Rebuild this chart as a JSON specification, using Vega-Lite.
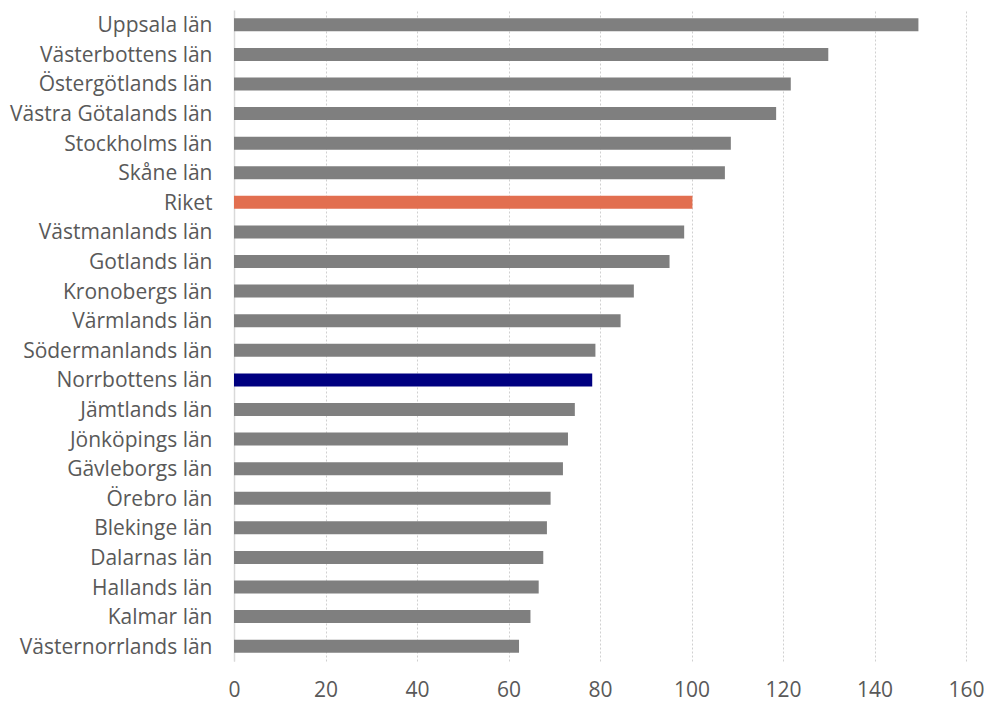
{
  "$schema": "https://vega.github.io/schema/vega-lite/v6.json",
  "autosize": {"type": "none"},
  "width": 732,
  "height": 651,
  "padding": {"left": 234, "top": 10, "right": 18, "bottom": 41},
  "background": "white",
  "data": {
    "values": [
      {"lan": "Uppsala län", "varde": 149.6, "grupp": "lan"},
      {"lan": "Västerbottens län", "varde": 129.9, "grupp": "lan"},
      {"lan": "Östergötlands län", "varde": 121.7, "grupp": "lan"},
      {"lan": "Västra Götalands län", "varde": 118.5, "grupp": "lan"},
      {"lan": "Stockholms län", "varde": 108.6, "grupp": "lan"},
      {"lan": "Skåne län", "varde": 107.3, "grupp": "lan"},
      {"lan": "Riket", "varde": 100.2, "grupp": "riket"},
      {"lan": "Västmanlands län", "varde": 98.4, "grupp": "lan"},
      {"lan": "Gotlands län", "varde": 95.2, "grupp": "lan"},
      {"lan": "Kronobergs län", "varde": 87.4, "grupp": "lan"},
      {"lan": "Värmlands län", "varde": 84.5, "grupp": "lan"},
      {"lan": "Södermanlands län", "varde": 79.0, "grupp": "lan"},
      {"lan": "Norrbottens län", "varde": 78.3, "grupp": "norrbotten"},
      {"lan": "Jämtlands län", "varde": 74.5, "grupp": "lan"},
      {"lan": "Jönköpings län", "varde": 73.0, "grupp": "lan"},
      {"lan": "Gävleborgs län", "varde": 71.9, "grupp": "lan"},
      {"lan": "Örebro län", "varde": 69.2, "grupp": "lan"},
      {"lan": "Blekinge län", "varde": 68.4, "grupp": "lan"},
      {"lan": "Dalarnas län", "varde": 67.6, "grupp": "lan"},
      {"lan": "Hallands län", "varde": 66.6, "grupp": "lan"},
      {"lan": "Kalmar län", "varde": 64.8, "grupp": "lan"},
      {"lan": "Västernorrlands län", "varde": 62.3, "grupp": "lan"}
    ]
  },
  "mark": {"type": "bar"},
  "encoding": {
    "y": {
      "field": "lan",
      "type": "nominal",
      "sort": null,
      "title": null,
      "scale": {"paddingInner": 0.56, "paddingOuter": 0.28},
      "axis": {
        "ticks": false,
        "labelPadding": 22,
        "labelOffset": 1.5,
        "labelFont": "Open Sans",
        "labelFontSize": 21,
        "labelColor": "#595959",
        "domainColor": "#d9d9d9",
        "domainWidth": 1.5,
        "grid": false,
        "labelLimit": 300
      }
    },
    "x": {
      "field": "varde",
      "type": "quantitative",
      "title": null,
      "scale": {"domain": [0, 160], "nice": false},
      "axis": {
        "values": [0, 20, 40, 60, 80, 100, 120, 140, 160],
        "ticks": false,
        "domain": false,
        "grid": true,
        "gridColor": "#d0d0d0",
        "gridDash": [2, 2],
        "gridWidth": 1,
        "labelFlush": false,
        "labelPadding": 18,
        "labelFont": "Open Sans",
        "labelFontSize": 21,
        "labelColor": "#595959"
      }
    },
    "color": {
      "field": "grupp",
      "type": "nominal",
      "legend": null,
      "scale": {
        "domain": ["lan", "riket", "norrbotten"],
        "range": ["#7f7f7f", "#e26f50", "#000080"]
      }
    }
  },
  "config": {"view": {"stroke": null}}
}
